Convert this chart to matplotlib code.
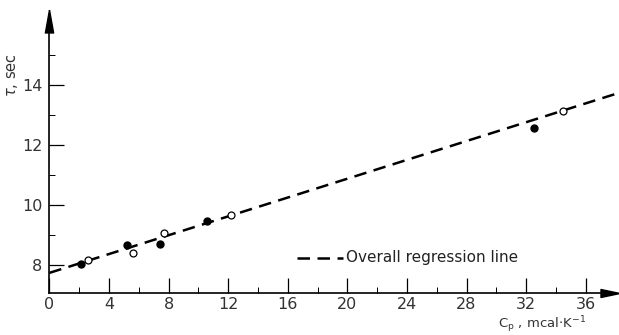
import numpy as np
import matplotlib
matplotlib.use("Agg")
import matplotlib.pyplot as plt

# data
filled_x = [2.1, 5.2, 7.4, 10.6, 32.5]
filled_y = [8.02, 8.67, 8.72, 9.48, 12.56]
open_x = [2.6, 5.6, 7.7, 12.2, 34.5]
open_y = [8.17, 8.42, 9.06, 9.67, 13.13]

# overall regression line
intercept = 7.74
slope = 0.157

xticks = [0, 4, 8, 12, 16, 20, 24, 28, 32, 36]
yticks = [8, 10, 12, 14]

plt.rcParams['font.family'] = ['DejaVu Sans']

fig = plt.figure(figsize=(6.19, 3.35), dpi=100)
ax = fig.add_axes([0.0797, 0.1254, 0.905, 0.812])

xmax = 37.6
ymin, ymax = 7.07, 16.14
ax.set_xlim(0, xmax)
ax.set_ylim(ymin, ymax)

xl = np.array([0, xmax + 0.65])
ax.plot(xl, intercept + slope * xl, ls=(0, (5, 3)), color='k', lw=1.8,
        clip_on=False)

ax.plot(filled_x, filled_y, 'o', color='k', ms=5, zorder=3)
ax.plot(open_x, open_y, 'o', mfc='white', mec='k', mew=0.9, ms=5, zorder=3)

# legend drawn by hand
ax.plot([16.6, 19.7], [8.25, 8.25], ls=(0, (5, 3)), color='k', lw=1.8)
ax.text(19.9, 8.25, 'Overall regression line', va='center', ha='left',
        fontsize=11, color='#222222')

for s in ['top', 'right']:
    ax.spines[s].set_visible(False)
ax.spines['left'].set_linewidth(1.2)
ax.spines['bottom'].set_linewidth(1.2)

# arrow heads (long, narrow triangles)
up = [(0, 1), (-0.36, -1), (0.36, -1), (0, 1)]
right = [(1, 0), (-1, 0.42), (-1, -0.42), (1, 0)]
ax.plot(0, 1, marker=up, color='k', ms=16.5, transform=ax.transAxes,
        clip_on=False)
ax.plot(1, 0, marker=right, color='k', ms=13.7, transform=ax.transAxes,
        clip_on=False)

ax.set_xticks(xticks)
ax.set_xticks(np.arange(2, 37, 2), minor=True)
ax.set_yticks(yticks)
ax.set_yticks([9, 11, 13, 15], minor=True)
ax.tick_params(axis='both', which='major', direction='in', length=11,
               width=0.9, labelsize=11.5, labelcolor='#333333', pad=3)
ax.tick_params(axis='both', which='minor', direction='in', length=4, width=0.7)
ax.tick_params(axis='y', which='major', pad=5)

ax.text(33.1, 6.02, r'C$_{\rm p}$ , mcal$\cdot$K$^{-1}$', ha='center', va='center',
        fontsize=9.5, color='#333333', clip_on=False)
ax.text(-2.5, 14.33, r'$\tau$, sec', rotation=90, ha='center', va='center',
        fontsize=10.5, color='#333333', clip_on=False)

fig.savefig('out.png', dpi=100)
